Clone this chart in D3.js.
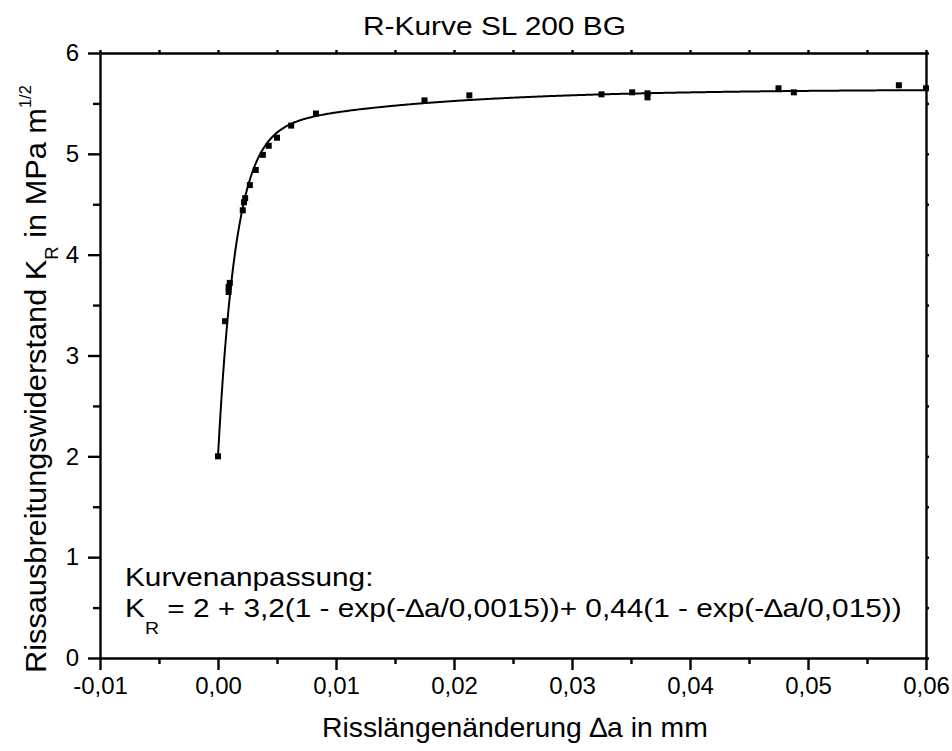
<!DOCTYPE html>
<html lang="de">
<head>
<meta charset="utf-8"/>
<style>
  body { margin: 0; background-color: #FFFFFF; }
  text { font-family: "Liberation Sans", Arial, sans-serif; fill: #000000; }
  .axis path, .axis line { stroke: #000000; stroke-width: 2.4; }
  .axis text { font-size: 24px; font-family: "Liberation Sans", Arial, sans-serif; }
</style>
</head>
<body>
<svg id="chart" width="952" height="751"></svg>

<script src="https://d3js.org/d3.v7.min.js"></script>
<script>
// measured points: crack extension (mm) and K_R (MPa m^1/2)
let dA = [0.0000, 0.0006, 0.0009, 0.0009, 0.0010, 0.0021, 0.0022, 0.0023, 0.0027,
          0.0032, 0.0038, 0.0043, 0.0050, 0.0062, 0.0083, 0.0175, 0.0213, 0.0325,
          0.0351, 0.0364, 0.0364, 0.0475, 0.0488, 0.0577, 0.0600]
let kR = [2.00, 3.34, 3.63, 3.68, 3.72, 4.44, 4.52, 4.56, 4.69,
          4.84, 4.99, 5.08, 5.16, 5.28, 5.40, 5.53, 5.58, 5.59,
          5.61, 5.60, 5.56, 5.65, 5.61, 5.68, 5.65]

let xTicks = [-0.01, 0.00, 0.01, 0.02, 0.03, 0.04, 0.05, 0.06]
let xMinor = [-0.005, 0.005, 0.015, 0.025, 0.035, 0.045, 0.055]
let yTicks = [0, 1, 2, 3, 4, 5, 6]
let yMinor = [0.5, 1.5, 2.5, 3.5, 4.5, 5.5]

// fit from the legend text: K_R = 2 + 3,2(1 - exp(-da/0,0015)) + 0,44(1 - exp(-da/0,015))
let fitK0 = 2, fitA1 = 3.2, fitT1 = 0.0015, fitA2 = 0.44, fitT2 = 0.015

let svg = d3.select("#chart")
let pLeft = 100, pRight = 926, pTop = 53, pBottom = 658

let xScale = d3.scaleLinear().domain([-0.01, 0.06]).range([pLeft, pRight])
let yScale = d3.scaleLinear().domain([0, 6]).range([pBottom, pTop])

// German decimal comma and a plain hyphen for the minus sign
let comma = d => d3.format(".2f")(d).replace(".", ",").replace("\u2212", "-")

// bottom axis
svg.append("g").attr("class", "axis")
   .attr("transform", "translate(0," + pBottom + ")")
   .call(d3.axisBottom(xScale).tickValues(xTicks).tickSize(12).tickPadding(7)
         .tickSizeOuter(0).tickFormat(comma))
svg.append("g").attr("class", "axis")
   .attr("transform", "translate(0," + pBottom + ")")
   .call(d3.axisBottom(xScale).tickValues(xMinor).tickSize(6).tickFormat(""))
   .select(".domain").remove()

// top axis
svg.append("g").attr("class", "axis")
   .attr("transform", "translate(0," + pTop + ")")
   .call(d3.axisTop(xScale).tickValues(xTicks.concat(xMinor)).tickSize(3)
         .tickSizeOuter(0).tickFormat(""))

// left axis
svg.append("g").attr("class", "axis")
   .attr("transform", "translate(" + pLeft + ",0)")
   .call(d3.axisLeft(yScale).tickValues(yTicks).tickSize(12).tickPadding(9)
         .tickSizeOuter(0).tickFormat(d3.format("d")))
svg.append("g").attr("class", "axis")
   .attr("transform", "translate(" + pLeft + ",0)")
   .call(d3.axisLeft(yScale).tickValues(yMinor).tickSize(7).tickFormat(""))
   .select(".domain").remove()

// right axis
svg.append("g").attr("class", "axis")
   .attr("transform", "translate(" + pRight + ",0)")
   .call(d3.axisRight(yScale).tickValues(yTicks.concat(yMinor)).tickSize(3)
         .tickSizeOuter(0).tickFormat(""))

// fit curve
let fitX = d3.range(0, 0.06001, 0.0001)
let fit = a => fitK0 + fitA1 * (1 - Math.exp(-a / fitT1)) + fitA2 * (1 - Math.exp(-a / fitT2))
let line = d3.line().x(a => xScale(a)).y(a => yScale(fit(a)))
svg.append("path")
   .attr("d", line(fitX))
   .attr("fill", "none")
   .attr("stroke", "#000000")
   .attr("stroke-width", 2)

// measured points
let ms = 6
svg.selectAll("rect.pt")
   .data(d3.range(dA.length))
   .enter()
   .append("rect")
   .attr("class", "pt")
   .attr("x", i => xScale(dA[i]) - ms / 2)
   .attr("y", i => yScale(kR[i]) - ms / 2)
   .attr("width", ms)
   .attr("height", ms)
   .attr("fill", "#000000")

// the original lettering is a bit wider than Arial, so fit each text to its measured width
function stretch(sel, x, y, width, rot) {
  let sx = width / sel.node().getComputedTextLength()
  sel.attr("transform", "translate(" + x + "," + y + ")" + (rot ? " rotate(-90)" : "") +
           " scale(" + sx + ",1)")
  return sx
}

// title
let title = svg.append("text").style("font-size", "25px").text("R-Kurve SL 200 BG")
stretch(title, 363, 35, 263)

// x label
let xl = svg.append("text").style("font-size", "28px").text("Risslängenänderung \u2206a in mm")
stretch(xl, 322, 737, 386)

// y label
let yl = svg.append("text").style("font-size", "30px")
yl.append("tspan").text("Rissausbreitungswiderstand K")
yl.append("tspan").attr("dy", 12).style("font-size", "18px").text("R")
yl.append("tspan").attr("dy", -12).text(" in MPa m")
yl.append("tspan").attr("dy", -15).style("font-size", "16px").text("1/2")
stretch(yl, 46, 673, 588, true)

// fit annotation
let ft = svg.append("text").style("font-size", "26px")
ft.append("tspan").text("K")
ft.append("tspan").attr("dy", 17).style("font-size", "17px").text("R")
ft.append("tspan").attr("dy", -17).text(" = 2 + 3,2(1 - exp(-\u2206a/0,0015))+ 0,44(1 - exp(-\u2206a/0,015))")
let sxA = stretch(ft, 125, 617, 777)
svg.append("text").style("font-size", "26px")
   .attr("transform", "translate(125,586) scale(" + sxA + ",1)")
   .text("Kurvenanpassung:")
</script>
</body>
</html>
